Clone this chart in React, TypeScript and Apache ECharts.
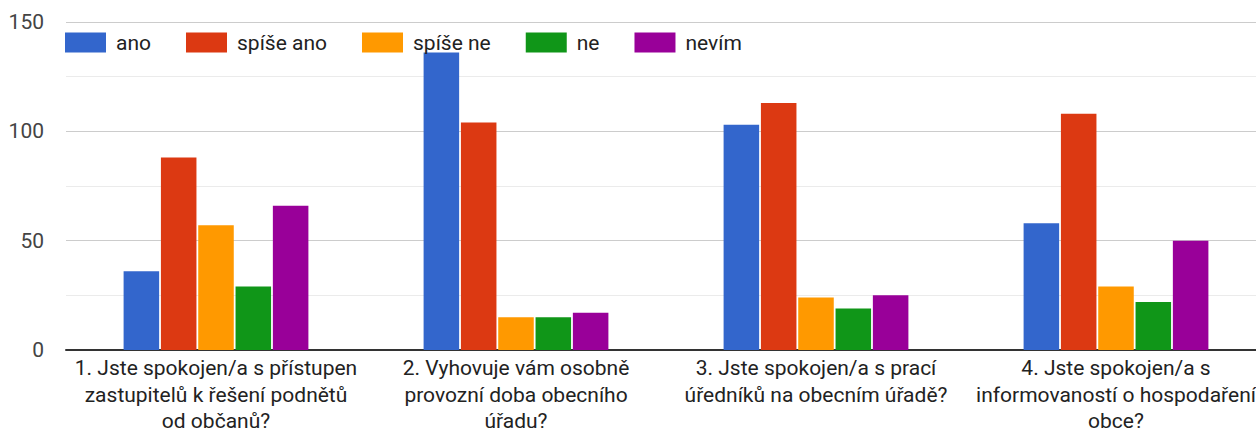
import React, { useEffect, useRef } from "react";
import * as echarts from "echarts";

const categories = [
  "1. Jste spokojen/a s přístupen\nzastupitelů k řešení podnětů\nod občanů?",
  "2. Vyhovuje vám osobně\nprovozní doba obecního\núřadu?",
  "3. Jste spokojen/a s prací\núředníků na obecním úřadě?",
  "4. Jste spokojen/a s\ninformovaností o hospodaření\nobce?",
];

const seriesNames = ["ano", "spíše ano", "spíše ne", "ne", "nevím"];
const ano = [36, 136, 103, 58];
const spiseAno = [88, 104, 113, 108];
const spiseNe = [57, 15, 24, 29];
const ne = [29, 15, 19, 22];
const nevim = [66, 17, 25, 50];
const seriesValues = [ano, spiseAno, spiseNe, ne, nevim];
const colors = ["#3366cc", "#dc3912", "#ff9900", "#109618", "#990099"];

const FONT = "Roboto, Arial, sans-serif";

export default function App() {
  const ref = useRef<HTMLDivElement>(null);
  useEffect(() => {
    if (!ref.current) return;
    const chart = echarts.init(ref.current, undefined, { renderer: "svg" });
    chart.setOption({
      animation: false,
      color: colors,
      textStyle: { fontFamily: FONT },
      legend: {
        left: 60,
        top: 27,
        itemWidth: 41,
        itemHeight: 20,
        itemGap: 35,
        icon: "rect",
        textStyle: { fontSize: 21, color: "#222", fontFamily: FONT, padding: [0, 0, 0, 5] },
        data: seriesNames,
      },
      grid: { left: 66, right: -10, top: 22, bottom: 80, containLabel: false, outerBoundsMode: "none" },
      xAxis: {
        type: "category",
        data: categories,
        axisLine: { lineStyle: { color: "#333", width: 2 } },
        axisTick: { show: false },
        axisLabel: {
          interval: 0,
          fontSize: 21,
          lineHeight: 26.5,
          color: "#222",
          margin: 5,
          fontFamily: FONT,
        },
      },
      yAxis: {
        type: "value",
        min: 0,
        max: 150,
        interval: 50,
        axisLine: { show: false },
        axisTick: { show: false },
        axisLabel: { fontSize: 21, color: "#444", margin: 22, fontFamily: FONT },
        splitLine: { lineStyle: { color: "#cccccc", width: 1 } },
        minorTick: { show: false, splitNumber: 2 },
        minorSplitLine: { show: true, lineStyle: { color: "#ebebeb", width: 1 } },
      },
      series: seriesNames.map((name, i) => ({
        name,
        type: "bar",
        data: seriesValues[i],
        barGap: "5%",
        barCategoryGap: "38.4%",
      })),
    });
    return () => chart.dispose();
  }, []);
  return (
    <div
      ref={ref}
      style={{ position: "fixed", left: 0, top: 0, width: 1256, height: 430, background: "#fff" }}
    />
  );
}
